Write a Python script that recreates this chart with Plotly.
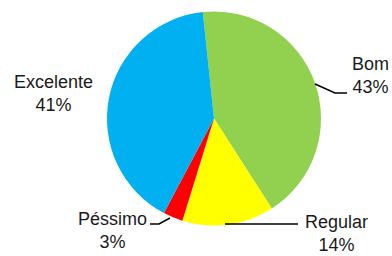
import plotly.graph_objects as go

categories = ["Bom", "Regular", "Péssimo", "Excelente"]
values = [43, 14, 3, 41]
colors = ["#92D050", "#FFFF00", "#FF0000", "#00B0F0"]

W, H = 392, 256

def px(x):
    return x / W

def py(y):
    return 1 - y / H

fig = go.Figure(go.Pie(
    labels=categories,
    values=values,
    sort=False,
    direction="clockwise",
    rotation=-6,
    marker=dict(colors=colors, line=dict(width=0)),
    textinfo="none",
    hoverinfo="label+percent",
    showlegend=False,
    domain=dict(x=[px(107), px(321)], y=[py(225.5), py(11.5)]),
))

total = sum(values)
pct = {c: round(100 * v / total) for c, v in zip(categories, values)}

label_pos = {
    "Bom": (370, 75),
    "Regular": (336, 233),
    "Péssimo": (112, 230),
    "Excelente": (53, 93),
}
leaders = {
    "Bom": [(315, 84), (335, 93), (347, 93)],
    "Regular": [(225, 224), (298, 224)],
    "Péssimo": [(150, 224), (159, 224), (170, 218)],
}

font = dict(family="Liberation Sans, Arial, sans-serif", size=18, color="#1a1a1a")
for c in categories:
    x, y = label_pos[c]
    fig.add_annotation(
        x=px(x), y=py(y), xref="paper", yref="paper",
        text=f"{c}<br>{pct[c]}%", showarrow=False,
        xanchor="center", yanchor="middle", align="center", font=font,
    )

for c, pts in leaders.items():
    path = "M " + " L ".join(f"{px(x)},{py(y)}" for x, y in pts)
    fig.add_shape(type="path", path=path, xref="paper", yref="paper",
                  line=dict(color="black", width=1.5))

fig.update_layout(
    width=W, height=H,
    margin=dict(l=0, r=0, t=0, b=0),
    paper_bgcolor="white", plot_bgcolor="white",
)

fig.write_html("out.html", config={"displayModeBar": False},
               post_script="document.body.style.margin='0';document.body.style.overflow='hidden';")
